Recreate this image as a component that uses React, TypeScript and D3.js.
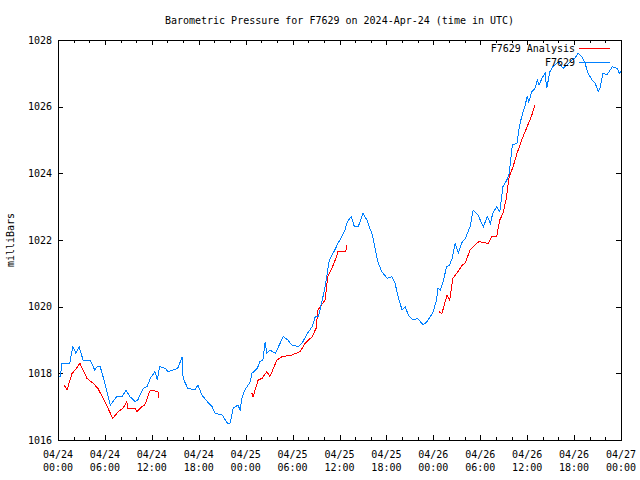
import React from "react";
import * as d3 from "d3";

// Hours since 2024-04-24 00:00 UTC
const stationHours = [
  0.1, 0.3, 0.5, 1.5, 1.9, 2.3, 2.7, 3.2, 4.1, 4.7, 5.0, 5.4, 6.0, 6.7, 7.5, 8.2, 8.7, 9.2, 9.9, 10.2,
  10.9, 11.4, 11.8, 12.4, 12.7, 13.0, 13.7, 14.1, 14.7, 15.3, 15.9, 16.0, 16.6, 17.5, 17.9, 18.4, 19.1, 19.7, 20.1, 21.0,
  21.4, 21.7, 22.0, 22.4, 23.0, 23.3, 23.5, 23.9, 24.6, 24.8, 25.5, 25.8, 26.2, 26.5, 26.7, 27.1, 27.8, 28.4, 28.8, 29.4,
  29.9, 30.7, 31.2, 31.9, 32.5, 32.9, 33.3, 33.8, 34.2, 34.7, 35.4, 35.8, 36.3, 36.7, 37.0, 37.5, 37.9, 38.4, 39.0, 39.5,
  40.2, 40.5, 40.9, 41.4, 42.1, 42.7, 43.1, 43.5, 44.0, 44.4, 44.8, 45.4, 46.0, 46.7, 47.2, 48.0, 48.4, 48.6, 48.9, 49.2,
  49.7, 50.1, 50.4, 50.8, 51.2, 51.7, 52.1, 52.7, 53.1, 53.7, 54.4, 54.9, 55.3, 55.6, 56.1, 56.5, 56.9, 57.4, 57.7, 58.1,
  58.7, 59.0, 59.3, 59.7, 60.0, 60.2, 60.6, 61.0, 61.3, 61.5, 62.0, 62.3, 62.5, 62.9, 63.3, 64.0, 64.6, 65.1, 65.7, 66.1,
  66.5, 67.0, 67.4, 67.8, 68.3, 68.7, 69.1, 69.3, 69.7, 70.2, 70.9, 71.5, 71.8, 72.0,
];
const stationPressure = [
  1017.9, 1017.9, 1018.3, 1018.3, 1018.8, 1018.6, 1018.8, 1018.4, 1018.4, 1018.1, 1018.2, 1018.2, 1017.7, 1017.05, 1017.3, 1017.3, 1017.5, 1017.3, 1017.15, 1017.2,
  1017.55, 1017.6, 1017.85, 1018.05, 1017.8, 1018.2, 1018.15, 1018.05, 1018.1, 1018.15, 1018.5, 1017.85, 1017.55, 1017.5, 1017.65, 1017.35, 1017.15, 1017.0, 1016.8, 1016.75,
  1016.6, 1016.5, 1016.5, 1016.95, 1017.05, 1016.9, 1017.25, 1017.5, 1017.75, 1018.0, 1018.15, 1018.35, 1018.4, 1018.95, 1018.6, 1018.7, 1018.6, 1018.9, 1019.1, 1019.0,
  1018.85, 1018.8, 1018.9, 1019.2, 1019.4, 1019.7, 1019.7, 1020.2, 1020.65, 1021.4, 1021.7, 1021.9, 1022.1, 1022.3, 1022.55, 1022.7, 1022.4, 1022.4, 1022.8, 1022.6,
  1022.15, 1021.8, 1021.35, 1021.05, 1020.85, 1020.9, 1020.7, 1020.3, 1019.9, 1020.0, 1019.75, 1019.6, 1019.65, 1019.45, 1019.55, 1019.85, 1020.2, 1020.55, 1020.5, 1020.7,
  1021.2, 1021.25, 1021.45, 1021.9, 1021.6, 1021.95, 1022.05, 1022.4, 1022.9, 1022.75, 1022.4, 1022.7, 1022.5, 1022.8, 1023.0, 1022.85, 1023.6, 1023.8, 1024.0, 1024.85,
  1024.9, 1025.4, 1025.7, 1026.0, 1026.3, 1026.15, 1026.45, 1026.55, 1026.8, 1026.65, 1026.9, 1027.0, 1026.55, 1027.05, 1027.2, 1027.35, 1027.15, 1027.25, 1027.4, 1027.45,
  1027.6, 1027.5, 1027.3, 1027.0, 1026.8, 1026.7, 1026.45, 1026.55, 1027.0, 1026.95, 1027.2, 1027.15, 1027.0, 1027.05,
];

// null marks a gap between analysis runs
const analysisHours = [
  0.8, 1.15, 1.8, 2.2, 2.8, 3.7, 4.5, 5.1, 6.0, 7.0, 7.7, 8.3, 8.8, 8.95, 9.85, 10.1, 10.7, 11.1, 11.8, 12.4, 12.8, 12.9,
  null,
  24.8, 24.95, 25.6, 26.1, 26.7, 27.1, 28.0, 28.65, 29.9, 30.95, 31.6, 32.5, 33.0, 33.25, 34.15, 34.5, 35.2, 35.7, 35.8, 36.8, 36.95,
  null,
  48.7, 49.1, 49.75, 50.1, 50.5, 51.0, 51.7, 52.05, 52.7, 53.3, 53.85, 55.0, 55.5, 56.1, 56.5, 56.9, 57.3, 57.7, 58.2, 58.7, 59.3, 60.0, 60.6, 61.0,
];
const analysisPressure = [
  1017.65, 1017.5, 1018.0, 1018.1, 1018.3, 1017.85, 1017.7, 1017.55, 1017.15, 1016.65, 1016.85, 1016.95, 1017.15, 1016.95, 1016.95, 1016.85, 1017.0, 1017.05, 1017.5, 1017.47, 1017.44, 1017.25,
  null,
  1017.4, 1017.3, 1017.8, 1017.85, 1018.05, 1017.9, 1018.4, 1018.5, 1018.55, 1018.65, 1018.9, 1019.1, 1019.35, 1019.9, 1020.2, 1020.9, 1021.25, 1021.55, 1021.65, 1021.65, 1021.85,
  null,
  1019.85, 1019.8, 1020.35, 1020.2, 1020.85, 1021.0, 1021.25, 1021.3, 1021.7, 1021.85, 1021.95, 1021.9, 1022.1, 1022.1, 1022.6, 1022.8, 1023.2, 1023.9, 1024.2, 1024.6, 1025.0, 1025.4, 1025.75, 1026.05,
];

const xMajorTicks = [0, 6, 12, 18, 24, 30, 36, 42, 48, 54, 60, 66, 72];
const xDateLabels = ["04/24", "04/24", "04/24", "04/24", "04/25", "04/25", "04/25", "04/25", "04/26", "04/26", "04/26", "04/26", "04/27"];
const xTimeLabels = ["00:00", "06:00", "12:00", "18:00", "00:00", "06:00", "12:00", "18:00", "00:00", "06:00", "12:00", "18:00", "00:00"];
const yTicks = [1016, 1018, 1020, 1022, 1024, 1026, 1028];

const FONT = "'DejaVu Sans Mono', monospace";
const RED = "#ff0000";
const BLUE = "#0080ff";

export default function App() {
  const left = 58, right = 621, top = 40, bottom = 440;
  const x = d3.scaleLinear().domain([0, 72]).range([left, right]);
  const y = d3.scaleLinear().domain([1016, 1028]).range([bottom, top]);

  const station = stationHours.map((h, i) => [h, stationPressure[i]] as [number, number]);
  const analysis = analysisHours.map((h, i) => [h, analysisPressure[i]] as [number | null, number | null]);

  const line = d3
    .line<[number | null, number | null]>()
    .defined((d) => d[0] !== null && d[1] !== null)
    .x((d) => x(d[0] as number))
    .y((d) => y(d[1] as number));

  const minorTicks = d3.range(0, 73, 2).filter((h) => h % 6 !== 0);

  return (
    <svg
      width={640}
      height={480}
      style={{ position: "absolute", left: 0, top: 0, background: "#fff" }}
      fontFamily={FONT}
      fontSize={10}
    >
      <rect x={0} y={0} width={640} height={480} fill="#fff" />
      <text x={339.5} y={24} textAnchor="middle" fill="#000">
        Barometric Pressure for F7629 on 2024-Apr-24 (time in UTC)
      </text>
      <text transform={`translate(14,${(top + bottom) / 2}) rotate(-90)`} textAnchor="middle" fill="#000">
        milliBars
      </text>

      <g shapeRendering="crispEdges" stroke="#000" strokeWidth={1}>
        {yTicks.map((t) => (
          <g key={"y" + t}>
            <line x1={left} x2={left + 5} y1={Math.round(y(t)) + 0.5} y2={Math.round(y(t)) + 0.5} />
            <line x1={right} x2={right - 5} y1={Math.round(y(t)) + 0.5} y2={Math.round(y(t)) + 0.5} />
          </g>
        ))}
        {xMajorTicks.map((t) => (
          <g key={"x" + t}>
            <line x1={Math.round(x(t)) + 0.5} x2={Math.round(x(t)) + 0.5} y1={bottom} y2={bottom - 5} />
            <line x1={Math.round(x(t)) + 0.5} x2={Math.round(x(t)) + 0.5} y1={top} y2={top + 5} />
          </g>
        ))}
        {minorTicks.map((t) => (
          <g key={"m" + t}>
            <line x1={Math.round(x(t)) + 0.5} x2={Math.round(x(t)) + 0.5} y1={bottom} y2={bottom - 3} />
            <line x1={Math.round(x(t)) + 0.5} x2={Math.round(x(t)) + 0.5} y1={top} y2={top + 3} />
          </g>
        ))}
      </g>

      {yTicks.map((t) => (
        <text key={"yl" + t} x={52} y={y(t) + 3.5} textAnchor="end" fill="#000">
          {t}
        </text>
      ))}
      {xMajorTicks.map((t, i) => (
        <g key={"xl" + t}>
          <text x={x(t)} y={458} textAnchor="middle" fill="#000">
            {xDateLabels[i]}
          </text>
          <text x={x(t)} y={471} textAnchor="middle" fill="#000">
            {xTimeLabels[i]}
          </text>
        </g>
      ))}

      <path d={line(analysis) || ""} fill="none" stroke={RED} strokeWidth={1} shapeRendering="crispEdges" />
      <path d={line(station) || ""} fill="none" stroke={BLUE} strokeWidth={1} shapeRendering="crispEdges" />

      <text x={575} y={51.5} textAnchor="end" fill="#000">F7629 Analysis</text>
      <line x1={579} x2={610} y1={48.5} y2={48.5} stroke={RED} shapeRendering="crispEdges" />
      <text x={575} y={65.5} textAnchor="end" fill="#000">F7629</text>
      <line x1={579} x2={610} y1={62.5} y2={62.5} stroke={BLUE} shapeRendering="crispEdges" />

      <rect
        x={left + 0.5}
        y={top + 0.5}
        width={right - left}
        height={bottom - top}
        fill="none"
        stroke="#000"
        shapeRendering="crispEdges"
      />
    </svg>
  );
}
